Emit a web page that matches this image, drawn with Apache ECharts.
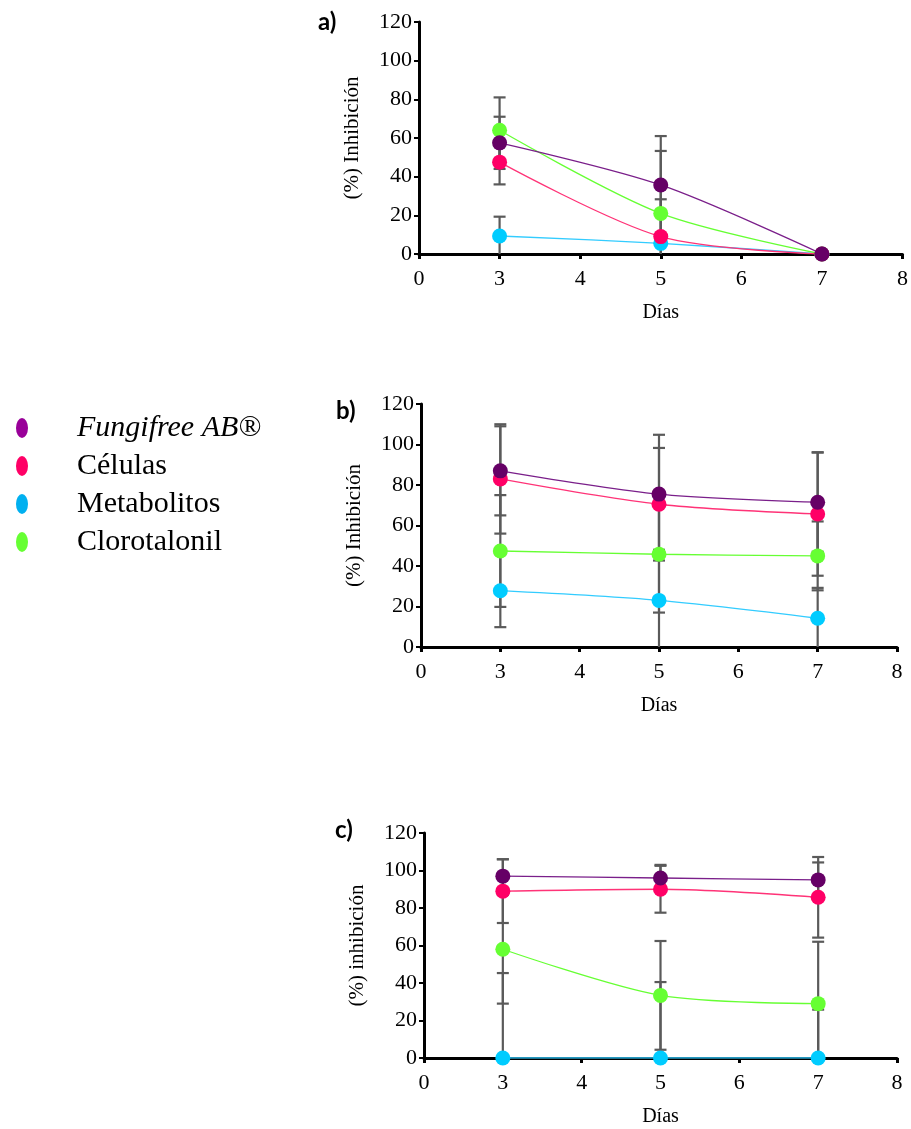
<!DOCTYPE html>
<html>
<head>
<meta charset="utf-8">
<script src="https://cdn.jsdelivr.net/npm/echarts@6/dist/echarts.min.js"></script>
<style>
  html, body { margin: 0; padding: 0; background: #fff; }
  #chart { width: 911px; height: 1129px; }
</style>
</head>
<body>
<div id="chart"></div>
<script>
// x axis labels (the axis is categorical: 0 then 3..8)
var xLabels = ['0', '3', '4', '5', '6', '7', '8'];
var days = ['3', '5', '7'];
var names = ['Fungifree AB®', 'Células', 'Metabolitos', 'Clorotalonil'];

// panel a
var fungiA = [57.5, 35.7, 0];
var celA = [47.5, 9, 0];
var metA = [9.3, 5.5, 0];
var cloA = [64, 21, 0];
var fungiErrA = [13.5, 25.3, 0];
var celErrA = [11.5, 19.3, 0];
var metErrA = [10, 0, 0];
var cloErrA = [17, 32.3, 0];

// panel b
var fungiB = [87, 75.5, 71.5];
var celB = [83, 70.5, 65.7];
var metB = [27.8, 23, 14.2];
var cloB = [47.4, 45.8, 45];
var fungiErrB = [22, 29.3, 24.5];
var celErrB = [27, 27.8, 30.5];
var metErrB = [18, 25, 15];
var cloErrB = [27.6, 28.8, 17];

// panel c
var fungiC = [97, 96, 95];
var celC = [89, 90, 85.7];
var metC = [0, 0, 0];
var cloC = [58, 33.4, 29];
var fungiErrC = [9, 7, 9.3];
var celErrC = [17, 12.5, 21.5];
var metErrC = [45.3, 40.5, 25.8];
var cloErrC = [29, 29, 33];

var markerColors = ['#660066', '#ff0066', '#00ccff', '#66ff33'];
var lineColors = ['#7a1f8a', '#ff3377', '#33ccff', '#66ff33'];
var legendColors = ['#990099', '#ff0066', '#00b0f0', '#66ff33'];

var panels = [
  {vals: [fungiA, celA, metA, cloA], errs: [fungiErrA, celErrA, metErrA, cloErrA],
   grid: {left: 419, right: 6, top: 22, height: 232}, yName: '(%) Inhibición', tag: 'a)', tagPos: [318, 10]},
  {vals: [fungiB, celB, metB, cloB], errs: [fungiErrB, celErrB, metErrB, cloErrB],
   grid: {left: 421, right: 14, top: 404, height: 243}, yName: '(%) Inhibición', tag: 'b)', tagPos: [336, 399]},
  {vals: [fungiC, celC, metC, cloC], errs: [fungiErrC, celErrC, metErrC, cloErrC],
   grid: {left: 424, right: 14, top: 833, height: 225}, yName: '(%) inhibición', tag: 'c)', tagPos: [335, 818]}
];

var serif = 'Liberation Serif';

function errRender(params, api) {
  var x = api.value(0), lo = api.value(1), hi = api.value(2);
  var top = api.coord([x, hi]);
  var bot = api.coord([x, lo]);
  var w = 6;
  var st = {stroke: '#5a5a5a', lineWidth: 2.2};
  return {
    type: 'group',
    children: [
      {type: 'line', shape: {x1: top[0], y1: top[1], x2: bot[0], y2: bot[1]}, style: st},
      {type: 'line', shape: {x1: top[0] - w, y1: top[1], x2: top[0] + w, y2: top[1]}, style: st},
      {type: 'line', shape: {x1: bot[0] - w, y1: bot[1], x2: bot[0] + w, y2: bot[1]}, style: st}
    ]
  };
}

var grids = [], xAxes = [], yAxes = [], series = [], graphics = [];

panels.forEach(function (p, pi) {
  grids.push(p.grid);
  xAxes.push({
    type: 'category', gridIndex: pi, data: xLabels, boundaryGap: false,
    name: 'Días', nameLocation: 'middle', nameGap: 49,
    nameTextStyle: {fontFamily: serif, fontSize: 20, color: '#000'},
    axisLine: {lineStyle: {color: '#000', width: 3}},
    axisTick: {show: true, length: 5, lineStyle: {color: '#000', width: 3}},
    axisLabel: {fontFamily: serif, fontSize: 22, color: '#000', margin: 14},
    splitLine: {show: false}
  });
  yAxes.push({
    type: 'value', gridIndex: pi, min: 0, max: 120, interval: 20,
    name: p.yName, nameLocation: 'middle', nameGap: 56,
    nameTextStyle: {fontFamily: serif, fontSize: 21, color: '#000'},
    axisLine: {show: true, lineStyle: {color: '#000', width: 3}},
    axisTick: {show: true, length: 5, lineStyle: {color: '#000', width: 2}},
    axisLabel: {fontFamily: serif, fontSize: 22, color: '#000', margin: 7},
    splitLine: {show: false}
  });

  // error bars for all four series of the panel
  var errData = [];
  p.vals.forEach(function (v, si) {
    v.forEach(function (y, di) {
      var e = p.errs[si][di];
      if (e > 0) errData.push([days[di], y - e, y + e]);
    });
  });
  series.push({
    type: 'custom', xAxisIndex: pi, yAxisIndex: pi, clip: true, z: 1,
    renderItem: errRender, encode: {x: 0, y: [1, 2]}, data: errData, silent: true
  });

  // draw order: Metabolitos, Clorotalonil, Células, Fungifree on top
  [2, 3, 1, 0].forEach(function (si) {
    series.push({
      name: names[si], type: 'line', xAxisIndex: pi, yAxisIndex: pi, z: 2,
      smooth: 0.3, symbol: 'circle', symbolSize: 15, showSymbol: true,
      lineStyle: {color: lineColors[si], width: 1.3},
      itemStyle: {color: markerColors[si]},
      data: p.vals[si].map(function (y, di) { return [days[di], y]; })
    });
  });

  graphics.push({
    type: 'text', left: p.tagPos[0], top: p.tagPos[1],
    style: {text: p.tag, font: 'bold 24px Lato', fill: '#000'}
  });
});

var chart = echarts.init(document.getElementById('chart'));
chart.setOption({
  backgroundColor: '#fff',
  animation: false,
  grid: grids,
  xAxis: xAxes,
  yAxis: yAxes,
  legend: {
    orient: 'vertical', left: 11, top: 408, itemGap: 8,
    itemWidth: 12, itemHeight: 20,
    icon: 'path://M6,0 A6,10 0 1,1 6,20 A6,10 0 1,1 6,0 Z', symbolKeepAspect: false,
    textStyle: {fontFamily: serif, fontSize: 30, lineHeight: 30, color: '#000', padding: [0, 0, 0, 44]},
    data: names.map(function (n, i) {
      var d = {name: n, itemStyle: {color: legendColors[i]}};
      if (i === 0) d.textStyle = {fontStyle: 'italic'};
      return d;
    })
  },
  graphic: graphics,
  series: series
});
</script>
</body>
</html>
